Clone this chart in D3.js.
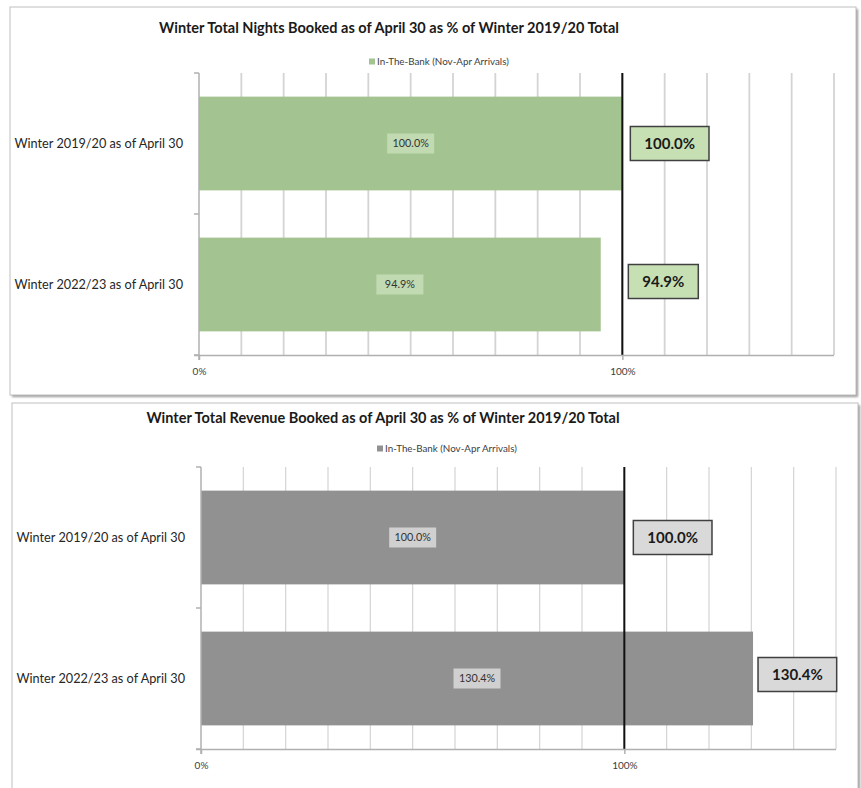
<!DOCTYPE html>
<html>
<head>
<meta charset="utf-8">
<script src="https://cdn.jsdelivr.net/npm/d3@7"></script>
<style>
  html, body { margin: 0; padding: 0; background: #ffffff; }
  svg { display: block; font-family: Lato, "Open Sans", sans-serif; }
</style>
</head>
<body>
<svg id="chart" width="861" height="788"></svg>
<script>
// Categories shared by both panels
const categories = ["Winter 2019/20 as of April 30", "Winter 2022/23 as of April 30"];
// Booked as % of Winter 2019/20 total
const nightsPct = [100.0, 94.9];
const revenuePct = [100.0, 130.4];
// Axis tick labels (major unit 100%, minor gridlines every 10%)
const tickValues = [0, 100];
const tickLabels = ["0%", "100%"];
const gridValues = d3.range(10, 151, 10);
const seriesName = "In-The-Bank (Nov-Apr Arrivals)";

const svg = d3.select("#chart");

const defs = svg.append("defs");
defs.append("filter").attr("id", "shadow").attr("x", "-5%").attr("y", "-5%").attr("width", "110%").attr("height", "110%")
  .append("feGaussianBlur").attr("stdDeviation", 1.2);

function drawPanel(cfg) {
  const g = svg.append("g");

  // panel frame with soft drop shadow
  g.append("rect")
    .attr("x", cfg.frame[0] + 2).attr("y", cfg.frame[1] + 2)
    .attr("width", cfg.frame[2]).attr("height", cfg.frame[3])
    .attr("fill", "#9a9a9a").attr("filter", "url(#shadow)");
  g.append("rect")
    .attr("x", cfg.frame[0]).attr("y", cfg.frame[1])
    .attr("width", cfg.frame[2]).attr("height", cfg.frame[3])
    .attr("fill", "#ffffff").attr("stroke", "#bfbfbf").attr("stroke-width", 1);

  // title
  g.append("text")
    .attr("x", cfg.titleX).attr("y", cfg.titleY)
    .attr("text-anchor", "middle")
    .attr("font-size", 14.5).attr("font-weight", 700).attr("fill", "#1a1a1a")
    .text(cfg.title);

  // legend
  const lg = g.append("g").attr("transform", `translate(${cfg.legendX},${cfg.legendY})`);
  lg.append("rect").attr("x", 0).attr("y", -3.5).attr("width", 6).attr("height", 6).attr("fill", cfg.color);
  lg.append("text").attr("x", 8).attr("y", 3).attr("font-size", 9.8).attr("fill", "#404040").text(seriesName);

  const x = d3.scaleLinear().domain([0, 150]).range([cfg.left, cfg.right]);
  const y = d3.scaleBand().domain(categories).range([cfg.top, cfg.bottom])
    .paddingInner(0.335).paddingOuter(0.1675);
  const band = d3.scaleBand().domain(categories).range([cfg.top, cfg.bottom]);

  // minor gridlines
  g.append("g").selectAll("line").data(gridValues).join("line")
    .attr("x1", d => x(d)).attr("x2", d => x(d))
    .attr("y1", cfg.top).attr("y2", cfg.bottom)
    .attr("stroke", "#d4d4d4").attr("stroke-width", cfg.gridWidth);

  // bars
  const values = cfg.values;
  g.append("g").selectAll("rect").data(categories).join("rect")
    .attr("x", x(0))
    .attr("y", d => y(d))
    .attr("width", (d, i) => x(values[i]) - x(0))
    .attr("height", y.bandwidth())
    .attr("fill", cfg.color);

  // 100% reference line
  g.append("line")
    .attr("x1", x(100)).attr("x2", x(100))
    .attr("y1", cfg.top).attr("y2", cfg.bottom)
    .attr("stroke", "#111111").attr("stroke-width", 2);

  // x axis
  const xAxis = d3.axisBottom(x).tickValues(tickValues).tickSize(5)
    .tickFormat((d, i) => tickLabels[i]);
  const xa = g.append("g").attr("transform", `translate(0,${cfg.bottom})`).call(xAxis);
  xa.select(".domain").attr("stroke", "#b0b0b0").attr("stroke-width", 1.5)
    .attr("d", `M${cfg.left - 5},0.5H${cfg.right}`);
  xa.selectAll(".tick line").attr("stroke", "#b0b0b0").attr("stroke-width", 1.5);
  xa.selectAll(".tick text").attr("font-size", 10).attr("fill", "#404040")
    .attr("font-family", "Lato, sans-serif").attr("dy", "0.71em").attr("y", 13);

  // y axis
  const ya = g.append("g").attr("transform", `translate(${cfg.left},0)`);
  ya.append("line").attr("x1", 0).attr("x2", 0).attr("y1", cfg.top).attr("y2", cfg.bottom + 5)
    .attr("stroke", "#b0b0b0").attr("stroke-width", 1.5);
  const bounds = [cfg.top, ...categories.slice(1).map(c => band(c)), cfg.bottom];
  ya.selectAll("line.cat").data(bounds).join("line").attr("class", "cat")
    .attr("x1", -5).attr("x2", 0).attr("y1", d => d).attr("y2", d => d)
    .attr("stroke", "#b0b0b0").attr("stroke-width", 1.5);

  // category labels
  g.append("g").selectAll("text").data(categories).join("text")
    .attr("x", cfg.left - 16)
    .attr("y", d => y(d) + y.bandwidth() / 2)
    .attr("dy", "0.35em")
    .attr("text-anchor", "end")
    .attr("font-size", 12.7).attr("fill", "#262626")
    .text(d => d);

  // inside-bar value labels
  const inner = g.append("g").selectAll("g").data(categories).join("g")
    .attr("transform", (d, i) => `translate(${(x(0) + x(values[i])) / 2},${y(d) + y.bandwidth() / 2})`);
  inner.append("rect").attr("x", -23.5).attr("y", -10).attr("width", 47).attr("height", 20)
    .attr("fill", cfg.innerFill);
  inner.append("text").attr("text-anchor", "middle").attr("dy", "0.35em")
    .attr("font-size", 10.8).attr("fill", "#333333")
    .text((d, i) => values[i].toFixed(1) + "%");

  // callout boxes beyond the bar end
  const callouts = g.append("g").selectAll("g").data(categories).join("g");
  callouts.each(function (d, i) {
    const c = d3.select(this);
    const label = values[i].toFixed(1) + "%";
    const t = c.append("text").attr("font-size", 15).attr("font-weight", 700).attr("fill", "#1a1a1a")
      .attr("text-anchor", "middle").attr("dy", "0.35em").text(label);
    const w = t.node().getComputedTextLength() + 28;
    const left = Math.max(x(values[i]), x(100)) + cfg.calloutGap[i];
    const cy = y(d) + y.bandwidth() / 2 + cfg.calloutShift[i];
    c.insert("rect", "text")
      .attr("x", left).attr("y", cy - 17).attr("width", w).attr("height", 34)
      .attr("fill", cfg.calloutFill).attr("stroke", "#404040").attr("stroke-width", 1.5);
    t.attr("x", left + w / 2).attr("y", cy);
  });
}

drawPanel({
  frame: [10, 7, 846, 388],
  title: "Winter Total Nights Booked as of April 30 as % of Winter 2019/20 Total",
  titleX: 389, titleY: 33,
  legendX: 369, legendY: 62,
  left: 199, right: 834, top: 73, bottom: 355,
  values: nightsPct,
  color: "#a3c490",
  innerFill: "#c2dab2",
  calloutFill: "#c6e0b4",
  calloutGap: [8, 6],
  calloutShift: [0, -3],
  gridWidth: 1.8
});

drawPanel({
  frame: [12, 403, 846, 400],
  title: "Winter Total Revenue Booked as of April 30 as % of Winter 2019/20 Total",
  titleX: 383, titleY: 423,
  legendX: 377, legendY: 449,
  left: 201, right: 836, top: 467, bottom: 749,
  values: revenuePct,
  color: "#919191",
  innerFill: "#d0d0d0",
  calloutFill: "#d9d9d9",
  calloutGap: [9, 5],
  calloutShift: [0, -4],
  gridWidth: 1.2
});
</script>
</body>
</html>
